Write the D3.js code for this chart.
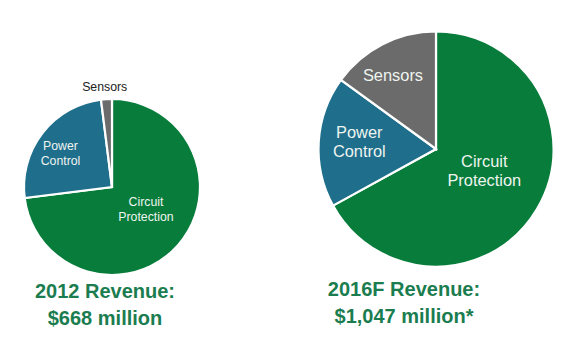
<!DOCTYPE html>
<html>
<head>
<meta charset="utf-8">
<script src="https://cdn.jsdelivr.net/npm/d3@7"></script>
<style>
  html, body { margin: 0; padding: 0; background: #ffffff; }
  svg { display: block; }
</style>
</head>
<body>
<svg id="chart" width="573" height="352"></svg>
<script>
// ---- data ----
const categories = ["Circuit Protection", "Power Control", "Sensors"];
const values2012 = [73, 25, 2];
const values2016 = [67, 18, 15];
const titles2012 = ["2012 Revenue:", "$668 million"];
const titles2016 = ["2016F Revenue:", "$1,047 million*"];

// ---- styling / layout ----
const colors = d3.scaleOrdinal().domain(categories).range(["#077c3b", "#1e6e8c", "#6b6b6b"]);
const titleColor = "#1b7d4f";
const svg = d3.select("#chart");

// label offsets: dx = text centre, dy = middle baseline, relative to pie centre
const pies = [
  {
    values: values2012, cx: 112, cy: 187, r: 88, fs: 12.3, lh: 14.8,
    labels: {
      "Circuit Protection": { dx: 34, dy: 26.2, color: "#eef4ef" },
      "Power Control": { dx: -51.5, dy: -29.4, color: "#eef4ef" },
      "Sensors": { dx: -7.3, dy: -96.3, color: "#222222" }
    },
    titles: titles2012, tx: 105, ty: 298.3, tfs: 20, tlh: 26.7
  },
  {
    values: values2016, cx: 436, cy: 149, r: 117.5, fs: 16.4, lh: 18.8,
    labels: {
      "Circuit Protection": { dx: 48.3, dy: 27.2, color: "#eef4ef" },
      "Power Control": { dx: -76.7, dy: -1.5, color: "#eef4ef" },
      "Sensors": { dx: -43, dy: -68, color: "#eef4ef" }
    },
    titles: titles2016, tx: 404, ty: 296.3, tfs: 20, tlh: 27
  }
];

const pieGen = d3.pie().sort(null).value(d => d.value).startAngle(0).endAngle(2 * Math.PI);

pies.forEach(p => {
  const data = categories.map((c, i) => ({ category: c, value: p.values[i] }));
  const arcs = pieGen(data);
  const arcGen = d3.arc().innerRadius(0).outerRadius(p.r);
  const g = svg.append("g").attr("transform", `translate(${p.cx},${p.cy})`);

  g.selectAll("path.slice")
    .data(arcs)
    .join("path")
    .attr("class", "slice")
    .attr("d", arcGen)
    .attr("fill", d => colors(d.data.category))
    .attr("stroke", "#ffffff")
    .attr("stroke-width", 2.2)
    .attr("stroke-linejoin", "miter");

  // labels
  const lab = g.selectAll("text.lab")
    .data(arcs)
    .join("text")
    .attr("class", "lab")
    .attr("text-anchor", "middle")
    .attr("font-family", "Liberation Sans, Arial, sans-serif")
    .attr("font-size", p.fs)
    .attr("fill", d => p.labels[d.data.category].color)
    .attr("transform", d => `translate(${p.labels[d.data.category].dx},${p.labels[d.data.category].dy})`);

  lab.each(function(d) {
    const words = d.data.category.split(" ");
    const n = words.length;
    const sel = d3.select(this);
    words.forEach((w, i) => {
      sel.append("tspan")
        .attr("x", 0)
        .attr("y", (i - (n - 1) / 2) * p.lh)
        .text(w);
    });
  });

  // titles
  const t = svg.append("text")
    .attr("text-anchor", "middle")
    .attr("font-family", "Liberation Sans, Arial, sans-serif")
    .attr("font-weight", "bold")
    .attr("font-size", p.tfs)
    .attr("fill", titleColor);
  p.titles.forEach((line, i) => {
    t.append("tspan").attr("x", p.tx).attr("y", p.ty + i * p.tlh).text(line);
  });
});
</script>
</body>
</html>
